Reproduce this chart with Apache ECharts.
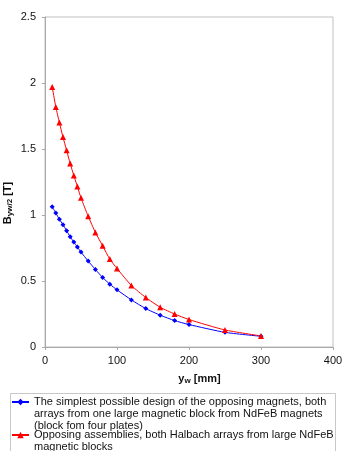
<!DOCTYPE html>
<html><head><meta charset="utf-8">
<script src="https://cdn.jsdelivr.net/npm/echarts@6/dist/echarts.min.js"></script>
<style>html,body{margin:0;padding:0;background:#fff}#c{width:346px;height:451px}</style>
</head><body><div id="c"></div>
<script>
var xValues = [10,15,20,25,30,35,40,45,50,60,70,80,90,100,120,140,160,180,200,250,300];
var blueValues = [1.063,1.015,0.967,0.927,0.881,0.835,0.795,0.757,0.719,0.651,0.587,0.527,0.476,0.433,0.357,0.291,0.241,0.200,0.170,0.111,0.081];
var redValues = [1.97,1.819,1.70,1.59,1.49,1.39,1.30,1.215,1.13,0.99,0.868,0.767,0.666,0.595,0.466,0.375,0.301,0.250,0.208,0.129,0.084];
var blueName = 'The simplest possible design of the opposing magnets, both\narrays from one large magnetic block from NdFeB magnets\n(block fom four plates)';
var redName = 'Opposing assemblies, both Halbach arrays from large NdFeB\nmagnetic blocks';
function pairs(xs, ys){ return xs.map(function(x,i){return [x, ys[i]];}); }
var font = 'Liberation Sans, Arial, sans-serif';
var chart = echarts.init(document.getElementById('c'));
chart.setOption({
  animation: false,
  textStyle: {fontFamily: font},
  grid: {left: 45, right: 13, top: 17, bottom: 104, show: true, borderColor: '#c0c0c0', borderWidth: 1,
         containLabel: false, outerBoundsMode: 'none'},
  graphic: [{type: 'rect', shape: {x: 10.5, y: 393.5, width: 325, height: 70}, style: {fill: 'none', stroke: '#c8c8c8', lineWidth: 1}, z: 0}],
  xAxis: {
    type: 'value', min: 0, max: 400, interval: 100,
    axisLine: {lineStyle: {color: '#a8a8a8'}},
    axisTick: {show: true, length: 3, lineStyle: {color: '#a8a8a8'}},
    splitLine: {show: false},
    axisLabel: {color: '#111', fontSize: 11, margin: 8, fontFamily: font},
    name: '{m|y}{s|w}{m| [mm]}', nameLocation: 'middle', nameGap: 26, nameMoveOverlap: false,
    nameTextStyle: {padding: [0,0,0,21], rich: {
      m: {fontSize: 11, fontWeight: 'bold', color: '#111', fontFamily: font},
      s: {fontSize: 8, fontWeight: 'bold', color: '#111', fontFamily: font, verticalAlign: 'bottom', padding: [4,0,0,0]}
    }}
  },
  yAxis: {
    type: 'value', min: 0, max: 2.5, interval: 0.5,
    axisLine: {show: true, lineStyle: {color: '#a8a8a8'}},
    axisTick: {show: true, length: 3, lineStyle: {color: '#a8a8a8'}},
    splitLine: {show: false},
    axisLabel: {color: '#111', fontSize: 11, margin: 9, fontFamily: font},
    name: '{m|B}{s|yw/2}{m| [T]}', nameLocation: 'middle', nameGap: 31, nameRotate: 90, nameMoveOverlap: false,
    nameTextStyle: {padding: [0,42,0,0], rich: {
      m: {fontSize: 11, fontWeight: 'bold', color: '#111', fontFamily: font},
      s: {fontSize: 8, fontWeight: 'bold', color: '#111', fontFamily: font, verticalAlign: 'bottom', padding: [4,0,0,0]}
    }}
  },
  legend: {
    orient: 'vertical', left: 11, top: 372, padding: 0, itemGap: -15,
    itemWidth: 17, itemHeight: 8,
    textStyle: {fontSize: 11, color: '#111', lineHeight: 12, fontFamily: font},
    formatter: function(name){
      var n = name.split('\n').length;
      return new Array(n).join('\n') + name;
    },
    data: [blueName, redName]
  },
  series: [
    {name: blueName, type: 'line', data: pairs(xValues, blueValues), smooth: 0.2,
     symbol: 'diamond', symbolSize: 5, lineStyle: {color: '#0000ff', width: 1}, itemStyle: {color: '#0000ff'}},
    {name: redName, type: 'line', data: pairs(xValues, redValues), smooth: 0.2,
     symbol: 'triangle', symbolSize: 6, lineStyle: {color: '#ff0000', width: 1}, itemStyle: {color: '#ff0000'}}
  ]
});
</script></body></html>
